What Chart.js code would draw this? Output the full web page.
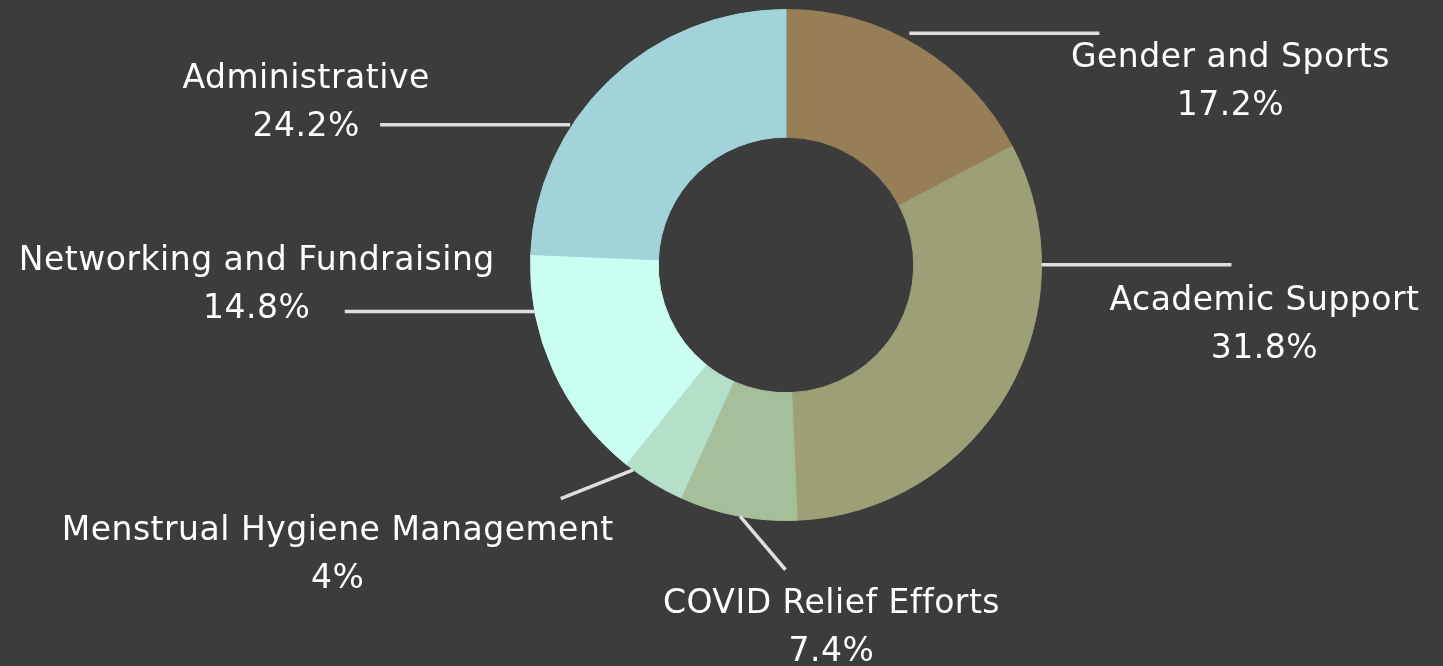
<!DOCTYPE html>
<html>
<head>
<meta charset="utf-8">
<title>Budget allocation</title>
<script src="https://cdn.jsdelivr.net/npm/chart.js@4.4.1/dist/chart.umd.min.js"></script>
<style>
  html, body { margin: 0; padding: 0; background: #3c3c3c; }
  #wrap { position: relative; width: 1443px; height: 666px; }
</style>
</head>
<body>
<div id="wrap"><canvas id="budgetChart"></canvas></div>
<script>
'use strict';

var categories = [
  'Gender and Sports',
  'Academic Support',
  'COVID Relief Efforts',
  'Menstrual Hygiene Management',
  'Networking and Fundraising',
  'Administrative'
];
var shares = [17.2, 31.8, 7.4, 4, 14.8, 24.2];
var sliceColors = ['#967f57', '#9da076', '#a6bf9b', '#b4dfc8', '#cafef2', '#a2d3d8'];

// callout placement per slice: where the leader leaves the arc (fraction of the slice),
// its direction (deg, screen coords) and length, then the label offset from the line end
var callouts = [
  { at: 0.45, gap: 7, dir: 0,     len: 190, tx: 131,  ty: 25 },
  { at: 0.24, gap: 0, dir: 0,     len: 190, tx: 33,   ty: 37 },
  { at: 0.48, gap: 0, dir: 49.7,  len: 70,  tx: 46,   ty: 35 },
  { at: 0.86, gap: 0, dir: 158.3, len: 78,  tx: -223, ty: 33 },
  { at: 0.76, gap: 0, dir: 180,   len: 190, tx: -88,  ty: -50 },
  { at: 0.35, gap: 2, dir: 180,   len: 190, tx: -74,  ty: -45 }
];

var calloutPlugin = {
  id: 'callouts',
  afterDatasetsDraw: function(chart) {
    var ctx = chart.ctx;
    var arcs = chart.getDatasetMeta(0).data;
    ctx.save();
    arcs.forEach(function(arc, i) {
      var c = callouts[i];
      var p = arc.getProps(['x', 'y', 'startAngle', 'endAngle', 'outerRadius'], true);
      var a = p.startAngle + (p.endAngle - p.startAngle) * c.at;
      var r = p.outerRadius + c.gap;
      var x0 = p.x + Math.cos(a) * r;
      var y0 = p.y + Math.sin(a) * r;
      var d = c.dir * Math.PI / 180;
      var x1 = x0 + Math.cos(d) * c.len;
      var y1 = y0 + Math.sin(d) * c.len;

      ctx.strokeStyle = '#dedede';
      ctx.lineWidth = 3.5;
      ctx.beginPath();
      ctx.moveTo(x0, y0);
      ctx.lineTo(x1, y1);
      ctx.stroke();

      ctx.fillStyle = '#ffffff';
      ctx.font = '33px "DejaVu Sans"';
      if ('letterSpacing' in ctx) ctx.letterSpacing = '0.5px';
      ctx.textAlign = 'center';
      ctx.textBaseline = 'middle';
      ctx.fillText(chart.data.labels[i], x1 + c.tx, y1 + c.ty);
      ctx.fillText(chart.data.datasets[0].data[i] + '%', x1 + c.tx, y1 + c.ty + 48);
    });
    ctx.restore();
  }
};

new Chart(document.getElementById('budgetChart'), {
  type: 'doughnut',
  data: {
    labels: categories,
    datasets: [{
      data: shares,
      backgroundColor: sliceColors,
      borderColor: sliceColors,
      borderWidth: 1
    }]
  },
  options: {
    responsive: true,
    maintainAspectRatio: false,
    animation: false,
    cutout: '50%',
    layout: { padding: { top: 9, bottom: 145, left: 530, right: 401 } },
    plugins: {
      legend: { display: false },
      tooltip: { enabled: false }
    }
  },
  plugins: [calloutPlugin]
});
</script>
</body>
</html>
